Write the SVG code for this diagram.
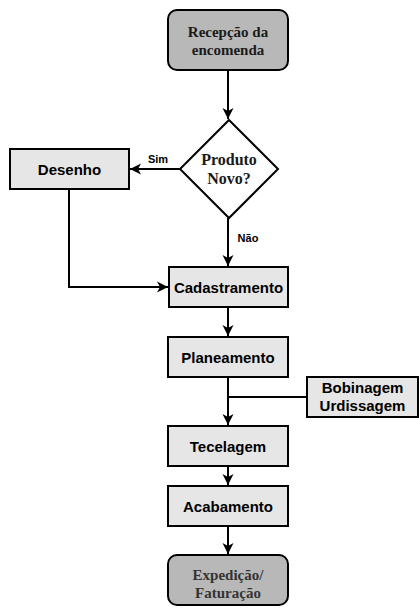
<svg xmlns="http://www.w3.org/2000/svg" width="419" height="611" viewBox="0 0 419 611">
  <style>
    .term { fill: #b8b8b8; stroke: #000; stroke-width: 2; }
    .proc { fill: #e6e6e6; stroke: #000; stroke-width: 2; }
    .dec { fill: #fff; stroke: #000; stroke-width: 2; }
    .serif { font-family: "Liberation Serif", "Times New Roman", serif; font-weight: bold; font-size: 15px; text-anchor: middle; fill: #1a1a1a; }
    .big { font-size: 16px; }
    .sans { font-family: "Liberation Sans", Arial, sans-serif; font-weight: bold; font-size: 15px; text-anchor: middle; fill: #000; }
    .lbl { font-family: "Liberation Sans", Arial, sans-serif; font-weight: bold; font-size: 11px; text-anchor: middle; fill: #000; }
    .edge { fill: none; stroke: #000; stroke-width: 2; }
  </style>
  <defs>
    <marker id="arrow" markerUnits="userSpaceOnUse" markerWidth="13" markerHeight="13" viewBox="0 0 13 13" refX="12" refY="6.5" orient="auto">
      <path d="M1,1 L12,6.5 L1,12 L4,6.5 z" fill="#000"/>
    </marker>
  </defs>

  <g id="connectors">
    <path class="edge" d="M228,70 V119" marker-end="url(#arrow)"/>
    <path class="edge" d="M180,169 H130" marker-end="url(#arrow)"/>
    <path class="edge" d="M228,218 V266" marker-end="url(#arrow)"/>
    <path class="edge" d="M69,189 V287 H168" marker-end="url(#arrow)"/>
    <path class="edge" d="M228,307 V336" marker-end="url(#arrow)"/>
    <path class="edge" d="M228,377 V425" marker-end="url(#arrow)"/>
    <path class="edge" d="M307,397 H228"/>
    <path class="edge" d="M228,466 V485" marker-end="url(#arrow)"/>
    <path class="edge" d="M228,526 V554" marker-end="url(#arrow)"/>
    <text class="lbl" x="158" y="163">Sim</text>
    <text class="lbl" x="248" y="242">Não</text>
  </g>

  <g id="recepcao">
    <rect class="term" x="168" y="10" width="120" height="60" rx="9"/>
    <text class="serif" x="228" y="37">Recepção da</text>
    <text class="serif" x="228" y="55">encomenda</text>
  </g>

  <g id="produto-novo">
    <path class="dec" d="M229,120 L278,169 L229,218 L180,169 z"/>
    <text class="serif big" x="229" y="165">Produto</text>
    <text class="serif big" x="229" y="184">Novo?</text>
  </g>

  <g id="desenho">
    <rect class="proc" x="10" y="149" width="119" height="40"/>
    <text class="sans" x="69.5" y="175">Desenho</text>
  </g>

  <g id="cadastramento">
    <rect class="proc" x="169" y="267" width="119" height="40"/>
    <text class="sans" x="228.5" y="293">Cadastramento</text>
  </g>

  <g id="planeamento">
    <rect class="proc" x="168" y="337" width="120" height="40"/>
    <text class="sans" x="228" y="363">Planeamento</text>
  </g>

  <g id="bobinagem-urdissagem">
    <rect class="proc" x="307" y="377" width="111" height="40"/>
    <text class="sans" x="362.5" y="393">Bobinagem</text>
    <text class="sans" x="362.5" y="411">Urdissagem</text>
  </g>

  <g id="tecelagem">
    <rect class="proc" x="168" y="426" width="120" height="40"/>
    <text class="sans" x="228" y="452">Tecelagem</text>
  </g>

  <g id="acabamento">
    <rect class="proc" x="168" y="486" width="120" height="40"/>
    <text class="sans" x="228" y="512">Acabamento</text>
  </g>

  <g id="expedicao">
    <rect class="term" x="168" y="555" width="120" height="50" rx="9"/>
    <text class="serif" x="228" y="580" style="fill:#333">Expedição/</text>
    <text class="serif" x="228" y="598" style="fill:#333">Faturação</text>
  </g>
</svg>
